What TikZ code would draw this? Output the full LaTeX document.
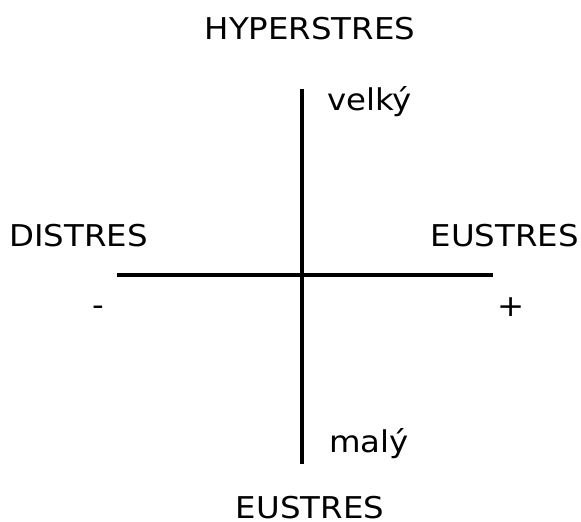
\documentclass[tikz,border=0pt]{standalone}
\usepackage{fontspec}
\setmainfont[FakeStretch=1.08]{DejaVu Sans}
\usetikzlibrary{positioning}

\begin{document}
\begin{tikzpicture}[
    x=1pt, y=-1pt,
    axis/.style={line width=4pt},
    pole/.style={font=\fontsize{30}{34}\selectfont, inner sep=0pt},
    tick/.style={font=\fontsize{30}{34}\selectfont, inner sep=0pt},
  ]
  \useasboundingbox (0,0) rectangle (581,522);
  % Axes
  \coordinate (top) at (302,89);
  \coordinate (bot) at (302,464);
  \coordinate (lft) at (117,275);
  \coordinate (rgt) at (493,275);
  \draw[axis] (top) -- (bot);
  \draw[axis] (lft) -- (rgt);

  % Poles
  \node[pole, anchor=base] (hyper) at (310,39) {HYPERSTRES};
  \node[pole, anchor=base west] (dis) at (9,246) {DISTRES};
  \node[pole, anchor=base east] (eu) at (579,246) {EUSTRES};
  \node[pole, anchor=base] (eub) at (310,518) {EUSTRES};

  % Axis labels
  \node[tick, anchor=base west] (big) at (327,110) {velký};
  \node[tick, anchor=base west] (small) at (329,452) {malý};
  \node[pole] (minus) at (98,311) {-};
  \node[pole] (plus) at (511,307) {+};
\end{tikzpicture}
\end{document}
